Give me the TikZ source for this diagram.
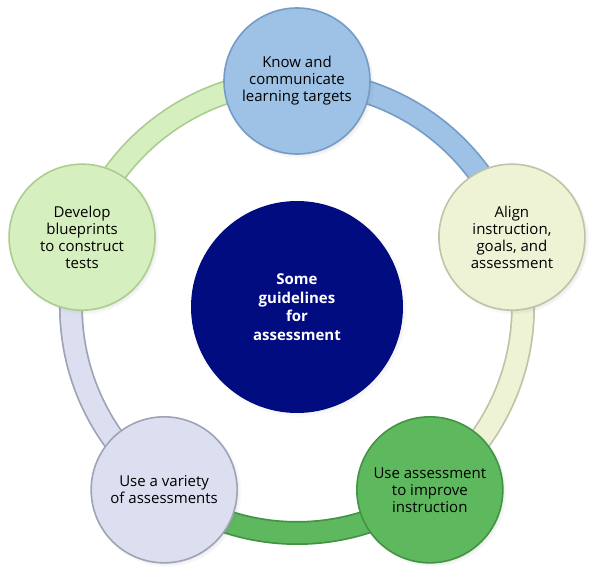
\documentclass[tikz,border=0pt]{standalone}
\usepackage{fontspec}
\setmainfont{Open Sans}
\usetikzlibrary{shadows,backgrounds,calc}
\definecolor{topF}{RGB}{157,194,230}
\definecolor{topD}{RGB}{118,155,198}
\definecolor{rgtF}{RGB}{238,243,214}
\definecolor{rgtD}{RGB}{190,196,165}
\definecolor{brF}{RGB}{94,184,94}
\definecolor{brD}{RGB}{66,148,66}
\definecolor{blF}{RGB}{220,223,240}
\definecolor{blD}{RGB}{160,162,182}
\definecolor{lftF}{RGB}{214,239,190}
\definecolor{lftD}{RGB}{172,205,145}
\definecolor{navy}{RGB}{0,12,128}
\begin{document}
\begin{tikzpicture}[x=1pt,y=1pt,
  item/.style={circle, minimum size=146pt, inner sep=0pt, line width=1.6pt,
    align=center, font=\fontsize{15}{17}\selectfont, text=black,
    circular drop shadow={shadow xshift=2pt, shadow yshift=-2pt, shadow scale=1.03, opacity=0.35}},
  hub/.style={circle, minimum size=212pt, inner sep=0pt, fill=navy, draw=none,
    align=center, font=\fontsize{15}{18.5}\selectfont\bfseries, text=white,
    circular drop shadow={shadow xshift=2pt, shadow yshift=-2pt, shadow scale=1.02, opacity=0.3}},
  bandout/.style={line width=24pt, line cap=butt},
  bandin/.style={line width=20.5pt, line cap=butt},
]
\useasboundingbox (0,0) rectangle (600,579);
\coordinate (O) at (297,272);
\node[hub] (hub) at (O) {Some\\guidelines\\for\\assessment};
\node[item, fill=topF, draw=topD] (know) at ($(O)+(90:226)$) {Know and\\communicate\\learning targets};
\node[item, fill=rgtF, draw=rgtD] (align) at ($(O)+(18:226)$) {Align\\instruction,\\goals, and\\assessment};
\node[item, fill=brF, draw=brD] (improve) at ($(O)+(-54:226)$) {Use assessment\\to improve\\instruction};
\node[item, fill=blF, draw=blD] (variety) at ($(O)+(-126:226)$) {Use a variety\\of assessments};
\node[item, fill=lftF, draw=lftD] (blue) at ($(O)+(162:226)$) {Develop\\blueprints\\to construct\\tests};
\begin{scope}[on background layer]
  \draw[bandout, topD] (know.center) arc[start angle=90, end angle=18, radius=226];
  \draw[bandin, topF] (know.center) arc[start angle=90, end angle=18, radius=226];
  \draw[bandout, rgtD] (align.center) arc[start angle=18, end angle=-54, radius=226];
  \draw[bandin, rgtF] (align.center) arc[start angle=18, end angle=-54, radius=226];
  \draw[bandout, brD] (improve.center) arc[start angle=-54, end angle=-126, radius=226];
  \draw[bandin, brF] (improve.center) arc[start angle=-54, end angle=-126, radius=226];
  \draw[bandout, blD] (variety.center) arc[start angle=234, end angle=162, radius=226];
  \draw[bandin, blF] (variety.center) arc[start angle=234, end angle=162, radius=226];
  \draw[bandout, lftD] (blue.center) arc[start angle=162, end angle=90, radius=226];
  \draw[bandin, lftF] (blue.center) arc[start angle=162, end angle=90, radius=226];
\end{scope}
\end{tikzpicture}
\end{document}
